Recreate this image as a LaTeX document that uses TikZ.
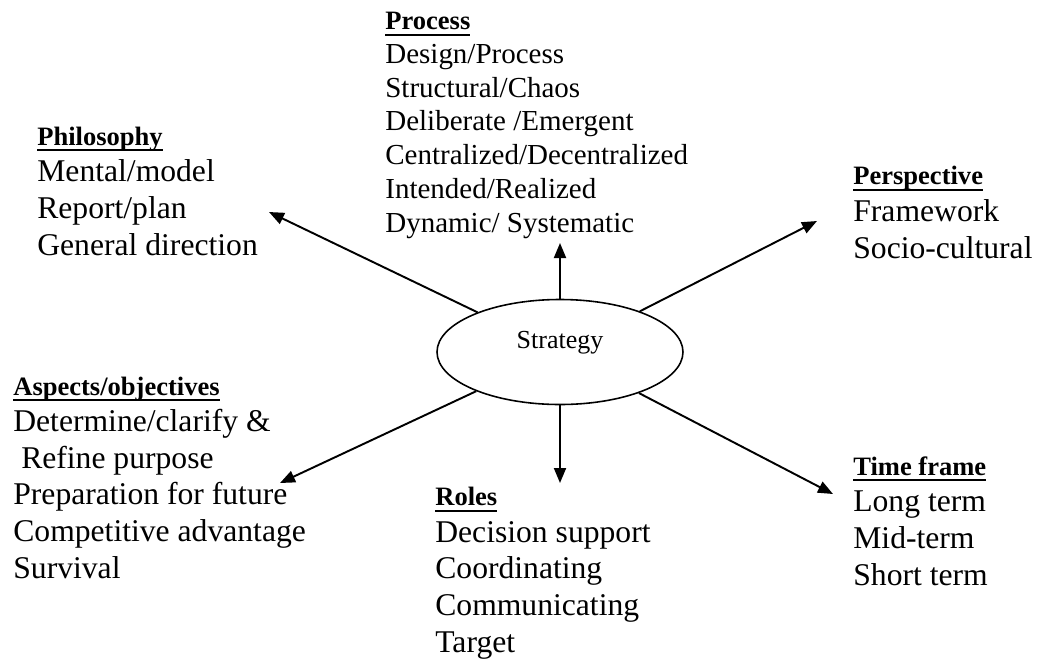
\documentclass[tikz,border=0pt]{standalone}
\usepackage{fontspec}
\setmainfont{Liberation Serif}
\usetikzlibrary{shapes.geometric,arrows.meta}
\newsavebox{\headbox}
\newcommand{\heading}[1]{{\fontsize{15.1}{20.8}\selectfont\bfseries
  \sbox{\headbox}{#1}\rlap{\rule[-3.4pt]{\wd\headbox}{1.1pt}}\usebox{\headbox}}}
\begin{document}
\begin{tikzpicture}[
  block/.style={anchor=base west, align=left, inner sep=0pt, font=\fontsize{18}{20.8}\selectfont},
  smallblock/.style={block, font=\fontsize{16.5}{19.2}\selectfont},
  ray/.style={line width=1.1pt, -{Triangle[length=0.3cm, width=0.24cm]}}
]
\useasboundingbox (0,0) rectangle (20.74,-13.18);

%Strategy
\node[ellipse, draw, line width=0.9pt, minimum width=4.92cm, minimum height=2.1cm, inner sep=0pt,
  text height=0.35cm, text depth=0.51cm, font=\fontsize{14.8}{17}\selectfont] (strategy) at (11.2,-7.04) {Strategy};

%Process (placed by its last line)
\node[smallblock] (process) at (7.70,-4.64) {\heading{Process}\\
  Design/Process\\ Structural/Chaos\\ Deliberate /Emergent\\
  Centralized/Decentralized\\ Intended/Realized\\ Dynamic/ Systematic};

%Philosophy
\node[block] (philosophy) at (0.74,-5.10) {\heading{Philosophy}\\
  Mental/model\\ Report/plan\\ General direction};

%Perspective
\node[block] (perspective) at (17.06,-5.16) {\heading{Perspective}\\
  Framework\\ Socio-cultural};

%Aspects/objectives
\node[block] (aspects) at (0.26,-11.56) {\heading{Aspects/objectives}\\
  Determine/clarify \&\\ \ Refine purpose\\ Preparation for future\\
  Competitive advantage\\ Survival};

%Roles
\node[block] (roles) at (8.70,-13.04) {\heading{Roles}\\
  Decision support\\ Coordinating\\ Communicating\\ Target};

%Time frame
\node[block] (timeframe) at (17.06,-11.70) {\heading{Time frame}\\
  Long term\\ Mid-term\\ Short term};

%Arrow ends
\coordinate (toprocess) at (11.2,-4.86);
\coordinate (tophilosophy) at (5.38,-4.24);
\coordinate (toperspective) at (16.34,-4.42);
\coordinate (toaspects) at (5.60,-9.66);
\coordinate (toroles) at (11.2,-9.66);
\coordinate (totimeframe) at (16.66,-9.88);

%Rays
\draw[ray] (strategy) -- (toprocess);
\draw[ray] (strategy) -- (tophilosophy);
\draw[ray] (strategy) -- (toperspective);
\draw[ray] (strategy) -- (toaspects);
\draw[ray] (strategy) -- (toroles);
\draw[ray] (strategy) -- (totimeframe);

\end{tikzpicture}
\end{document}
